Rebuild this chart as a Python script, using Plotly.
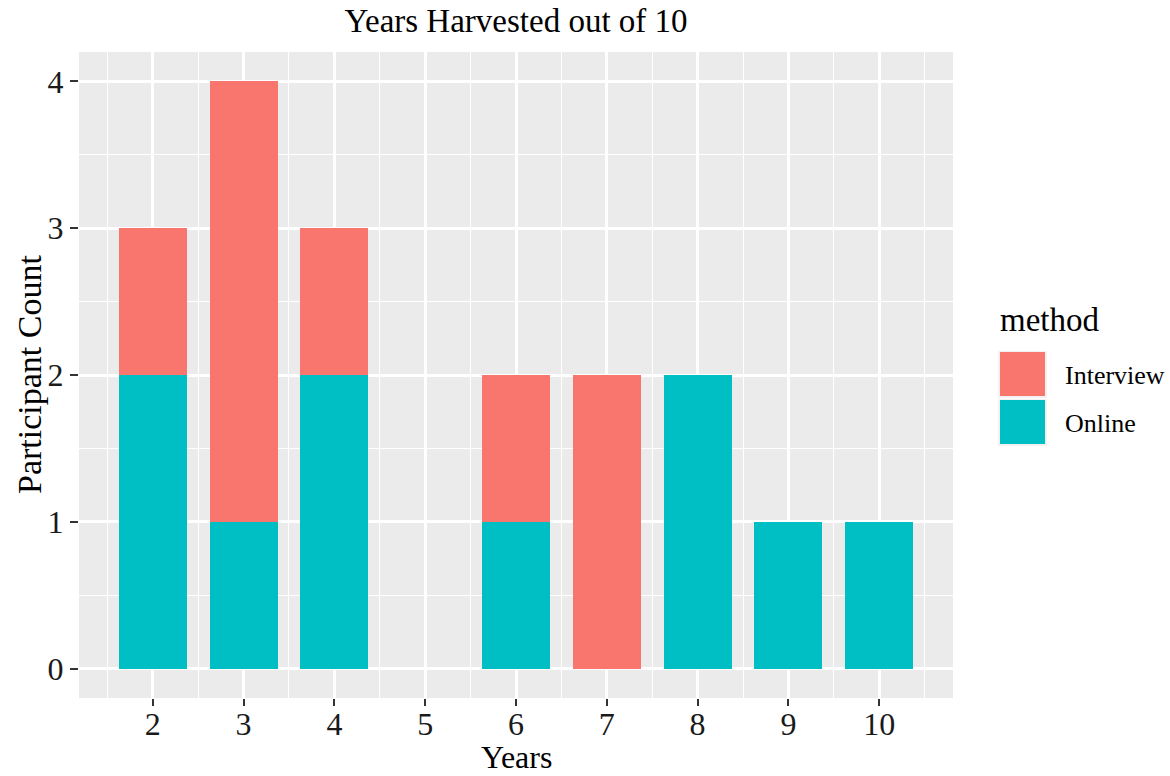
import plotly.graph_objects as go

years = [2, 3, 4, 6, 7, 8, 9, 10]
online = [2, 1, 2, 1, 0, 2, 1, 1]
interview = [1, 3, 1, 1, 2, 0, 0, 0]
tick_years = [2, 3, 4, 5, 6, 7, 8, 9, 10]
tick_labels = ["2", "3", "4", "5", "6", "7", "8", "9", "10"]
methods = ["Interview", "Online"]
colors = {"Interview": "#F8766D", "Online": "#00BFC4"}

W, H = 1170, 776
L, R, T, B = 79, 953, 52, 698
FONT = "Liberation Serif"

def px(x):
    return (x - L) / (R - L)

def py(y):
    return (B - y) / (B - T)

fig = go.Figure()
fig.add_bar(x=years, y=online, name="Online", width=0.75,
            marker=dict(color=colors["Online"], line=dict(width=0)))
fig.add_bar(x=years, y=interview, name="Interview", width=0.75,
            marker=dict(color=colors["Interview"], line=dict(width=0)))

fig.update_layout(
    width=W, height=H,
    margin=dict(l=L, r=W - R, t=T, b=H - B, pad=0),
    barmode="stack",
    showlegend=False,
    paper_bgcolor="white",
    plot_bgcolor="#EBEBEB",
    font=dict(family=FONT, color="black"),
    title=dict(text="Years Harvested out of 10", x=0.5, xref="paper",
               y=1 - 20 / H, yref="container", yanchor="middle", xanchor="center",
               font=dict(size=33, family=FONT, color="black")),
)

fig.update_xaxes(
    range=[1.1875, 10.8125], tickmode="array", tickvals=tick_years, ticktext=tick_labels,
    ticks="outside", ticklen=7, tickwidth=2, tickcolor="#333333",
    tickfont=dict(size=32, family=FONT, color="#1a1a1a"), ticklabelstandoff=-9,
    showgrid=True, gridcolor="white", gridwidth=2.5, zeroline=False, showline=False,
    minor=dict(tickmode="array", tickvals=[1.5 + i for i in range(10)], showgrid=True,
               gridcolor="white", gridwidth=1.2, ticks=""),
)
fig.update_yaxes(
    range=[-0.2, 4.2], tickmode="array", tickvals=[0, 1, 2, 3, 4],
    ticks="outside", ticklen=8, tickwidth=2, tickcolor="#333333",
    tickfont=dict(size=32, family=FONT, color="#1a1a1a"),
    showgrid=True, gridcolor="white", gridwidth=2.5, zeroline=False, showline=False,
    minor=dict(tickmode="array", tickvals=[0.5, 1.5, 2.5, 3.5], showgrid=True,
               gridcolor="white", gridwidth=1.2, ticks=""),
)

annotations = [
    dict(text="Years", x=0.5, xref="paper", y=py(757), yref="paper",
         xanchor="center", yanchor="middle", showarrow=False,
         font=dict(size=32, family=FONT, color="black")),
    dict(text="Participant Count", x=px(29), xref="paper", y=0.5, yref="paper",
         xanchor="center", yanchor="middle", showarrow=False, textangle=-90,
         font=dict(size=34, family=FONT, color="black")),
    dict(text="method", x=px(998), xref="paper", y=py(320), yref="paper",
         xanchor="left", yanchor="middle", showarrow=False,
         font=dict(size=33, family=FONT, color="black")),
]
shapes = []
key_tops = [351, 399]
for m, top in zip(methods, key_tops):
    shapes.append(dict(type="rect", xref="paper", yref="paper",
                       x0=px(998), x1=px(1047), y0=py(top + 47), y1=py(top),
                       fillcolor="#F2F2F2", line=dict(width=0), layer="above"))
    shapes.append(dict(type="rect", xref="paper", yref="paper",
                       x0=px(1000), x1=px(1045), y0=py(top + 45), y1=py(top + 1),
                       fillcolor=colors[m], line=dict(width=0), layer="above"))
    annotations.append(dict(text=m, x=px(1063), xref="paper", y=py(top + 24), yref="paper",
                            xanchor="left", yanchor="middle", showarrow=False,
                            font=dict(size=26, family=FONT, color="black")))
fig.update_layout(annotations=annotations, shapes=shapes)

fig.write_html("out.html", config={"displayModeBar": False})
with open("out.html", "r", encoding="utf-8") as f:
    html = f.read()
html = html.replace("<body>", '<body style="margin:0;padding:0;overflow:hidden">', 1)
with open("out.html", "w", encoding="utf-8") as f:
    f.write(html)
